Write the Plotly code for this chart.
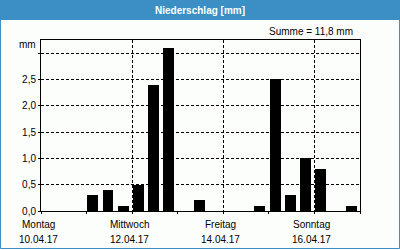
import plotly.graph_objects as go

# interval start times (8-hour intervals) and precipitation [mm]
times = ["2017-04-11 00:00", "2017-04-11 08:00", "2017-04-11 16:00",
         "2017-04-12 00:00", "2017-04-12 08:00", "2017-04-12 16:00",
         "2017-04-13 08:00", "2017-04-14 16:00", "2017-04-15 00:00",
         "2017-04-15 08:00", "2017-04-15 16:00", "2017-04-16 00:00",
         "2017-04-16 16:00"]
values = [0.3, 0.4, 0.1, 0.5, 2.4, 3.1, 0.2, 0.1, 2.5, 0.3, 1.0, 0.8, 0.1]

label_positions = ["2017-04-10", "2017-04-12", "2017-04-14", "2017-04-16"]
label_days = ["Montag", "Mittwoch", "Freitag", "Sonntag"]
label_dates = ["10.04.17", "12.04.17", "14.04.17", "16.04.17"]

y_tickvals = [0, 0.5, 1.0, 1.5, 2.0, 2.5, 3.0]
y_ticktext = ["0,0", "0,5", "1,0", "1,5", "2,0", "2,5", ""]

BLUE = "#3b8fc4"
FONT = "Liberation Sans, Arial, sans-serif"
SLOT_MS = 8 * 3600 * 1000

fig = go.Figure()
fig.add_trace(go.Bar(
    x=times, y=values,
    width=SLOT_MS * 0.72, offset=SLOT_MS * 0.05,
    marker=dict(color="#000000", line=dict(width=0)),
    hoverinfo="x+y",
))

total = sum(values)
annotations = [
    dict(text=f"Summe = {total:.1f} mm".replace(".", ","), xref="paper", yref="paper",
         x=1, y=1, xanchor="right", yanchor="middle", xshift=-5, yshift=9,
         showarrow=False, font=dict(family=FONT, size=10, color="#000")),
    dict(text="mm", xref="paper", yref="paper", x=0, y=1, xanchor="right",
         yanchor="middle", xshift=-3, yshift=-4, showarrow=False,
         font=dict(family=FONT, size=10, color="#000")),
]
for pos, d, dt in zip(label_positions, label_days, label_dates):
    annotations.append(dict(text=d, x=pos, xref="x", yref="paper", y=0,
                            xanchor="center", yanchor="middle", xshift=-3, yshift=-13,
                            showarrow=False, font=dict(family=FONT, size=10, color="#000")))
    annotations.append(dict(text=dt, x=pos, xref="x", yref="paper", y=0,
                            xanchor="center", yanchor="middle", xshift=-3, yshift=-28,
                            showarrow=False, font=dict(family=FONT, size=10, color="#000")))

shapes = [
    # title bar
    dict(type="rect", xref="paper", yref="paper", xsizemode="pixel", ysizemode="pixel",
         xanchor=0, yanchor=1, x0=-42, x1=360, y0=20, y1=41,
         fillcolor=BLUE, line=dict(width=0), layer="below"),
    # outer border
    dict(type="rect", xref="paper", yref="paper", xsizemode="pixel", ysizemode="pixel",
         xanchor=0, yanchor=0, x0=-40.5, x1=358.5, y0=-37.5, y1=200,
         fillcolor="rgba(0,0,0,0)", line=dict(color=BLUE, width=1), layer="below"),
]
annotations.append(dict(text="<b>Niederschlag [mm]</b>", xref="paper", yref="paper",
                        x=0.5, y=1, xanchor="center", yanchor="middle",
                        xshift=(400 / 2 - 41) - 319 / 2, yshift=30, showarrow=False,
                        font=dict(family=FONT, size=10, color="#ffffff")))

fig.update_layout(
    width=400, height=250,
    margin=dict(l=41, r=40, t=40, b=39, pad=0),
    paper_bgcolor="#fcfefc", plot_bgcolor="#fcfefc",
    showlegend=False, bargap=0,
    annotations=annotations, shapes=shapes,
    font=dict(family=FONT, size=10, color="#000"),
)
fig.update_xaxes(
    type="date", range=["2017-04-10", "2017-04-17"],
    tickvals=label_positions, showticklabels=False,
    ticks="outside", ticklen=2, tickcolor="#000",
    showgrid=True, gridcolor="#000", gridwidth=1, griddash="3px,2px",
    minor=dict(dtick=86400000, tick0="2017-04-10", ticks="outside", ticklen=2,
               tickcolor="#000", showgrid=False),
    showline=True, linecolor="#000", linewidth=1, mirror=True, zeroline=False,
)
fig.update_yaxes(
    range=[0, 3.25], tickvals=y_tickvals, ticktext=y_ticktext,
    ticks="outside", ticklen=2, tickcolor="#000",
    showgrid=True, gridcolor="#000", gridwidth=1, griddash="3px,2px",
    showline=True, linecolor="#000", linewidth=1, mirror=True, zeroline=False,
    tickfont=dict(family=FONT, size=10, color="#000"),
)

fig.write_html("out.html")
